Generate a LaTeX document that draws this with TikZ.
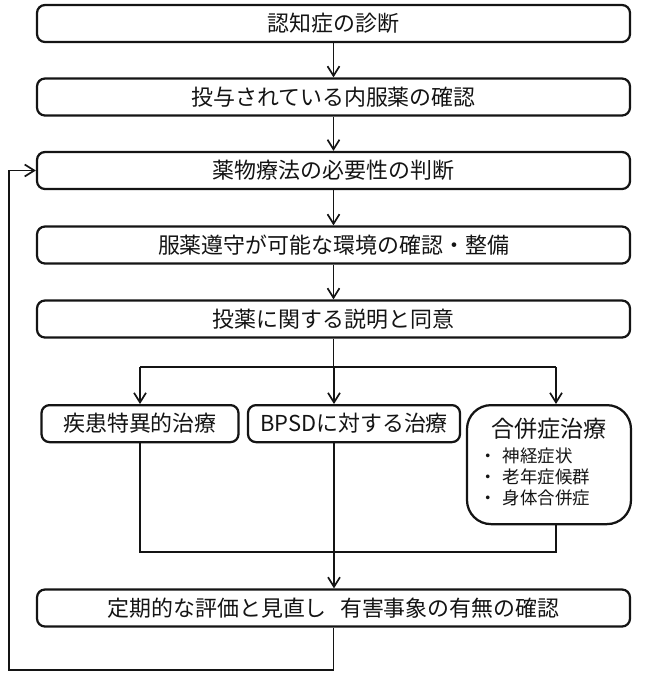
\documentclass[tikz,border=0pt]{standalone}
\usepackage{fontspec}
\setmainfont{Noto Sans CJK JP}
\usetikzlibrary{arrows.meta,positioning,calc}
\definecolor{ink}{RGB}{20,20,20}
\newcommand{\mainfs}{\fontsize{15.6}{18}\selectfont}
\newcommand{\listfs}{\fontsize{12.4}{14.6}\selectfont}
\tikzset{
  >={Straight Barb[length=2.4mm,width=3mm,line width=1.2pt]},
  stage/.style={draw=ink,line width=1.6pt,rounded corners=0.2cm,fill=white,
    minimum width=14.825cm,minimum height=0.925cm,inner sep=2pt,font=\mainfs,text=ink},
  sub/.style={draw=ink,line width=1.6pt,rounded corners=0.2cm,fill=white,
    minimum height=0.925cm,inner sep=2pt,font=\mainfs,text=ink,anchor=north},
  flow/.style={draw=ink,line width=1.25pt},
}
\begin{document}
\begin{tikzpicture}
    \useasboundingbox (0,0) rectangle (16.125,-17.025);
    % main sequence
    \foreach \t/\y [count=\i] in {認知症の診断/-0.5875,投与されている内服薬の確認/-2.425,
        薬物療法の必要性の判断/-4.2625,服薬遵守が可能な環境の確認・整備/-6.125,
        投薬に関する説明と同意/-7.975}{
      \node[stage] (s\i) at (8.3375,\y) {\t};
    }
    \foreach \i [evaluate=\i as \j using int(\i+1)] in {1,...,3}
      \draw[flow,->] (s\i.south) -- (s\j.north);
    \draw[flow,->] (s4.south) -- (s5.north);
    % treatments
    \node[sub,minimum width=4.925cm] (a) at (3.5,-10.1) {疾患特異的治療};
    \node[sub,minimum width=5.3cm] (b) at (8.85,-10.1) {BPSDに対する治療};
    \node[sub,minimum width=4.1cm,minimum height=2.975cm,rounded corners=0.6cm,align=center] (c) at (13.725,-10.1)
      {{\fontsize{16.4}{19}\selectfont 合併症治療}\\[5pt]
       {\listfs\begin{tabular}{@{}l@{\hspace{4pt}}l@{}}・&神経症状\\ ・&老年症候群\\ ・&身体合併症\end{tabular}}\hspace*{0.7cm}};
    \coordinate (ka) at (3.5,-9.175);
    \coordinate (kb) at (8.35,-9.175);
    \coordinate (kc) at (13.9,-9.175);
    \draw[flow] (s5.south) -- (s5.south |- kb);
    \draw[flow] (ka) -- (kc);
    \foreach \n in {a,b,c}
      \draw[flow,->] (k\n) -- (k\n |- \n.north);
    % review
    \node[stage] (fin) at (8.3375,-15.2) {定期的な評価と見直し\hspace{0.6em}有害事象の有無の確認};
    \coordinate (mg) at (0,-13.8);
    \draw[flow] (ka |- a.south) -- (ka |- mg) -- (kc |- mg) -- (kc |- c.south);
    \draw[flow,->] (kb |- b.south) -- (kb |- fin.north);
    % loop back
    \coordinate (lp) at (0.225,-16.75);
    \draw[flow,->] (fin.south) |- (lp) |- (s3.west);
\end{tikzpicture}
\end{document}
